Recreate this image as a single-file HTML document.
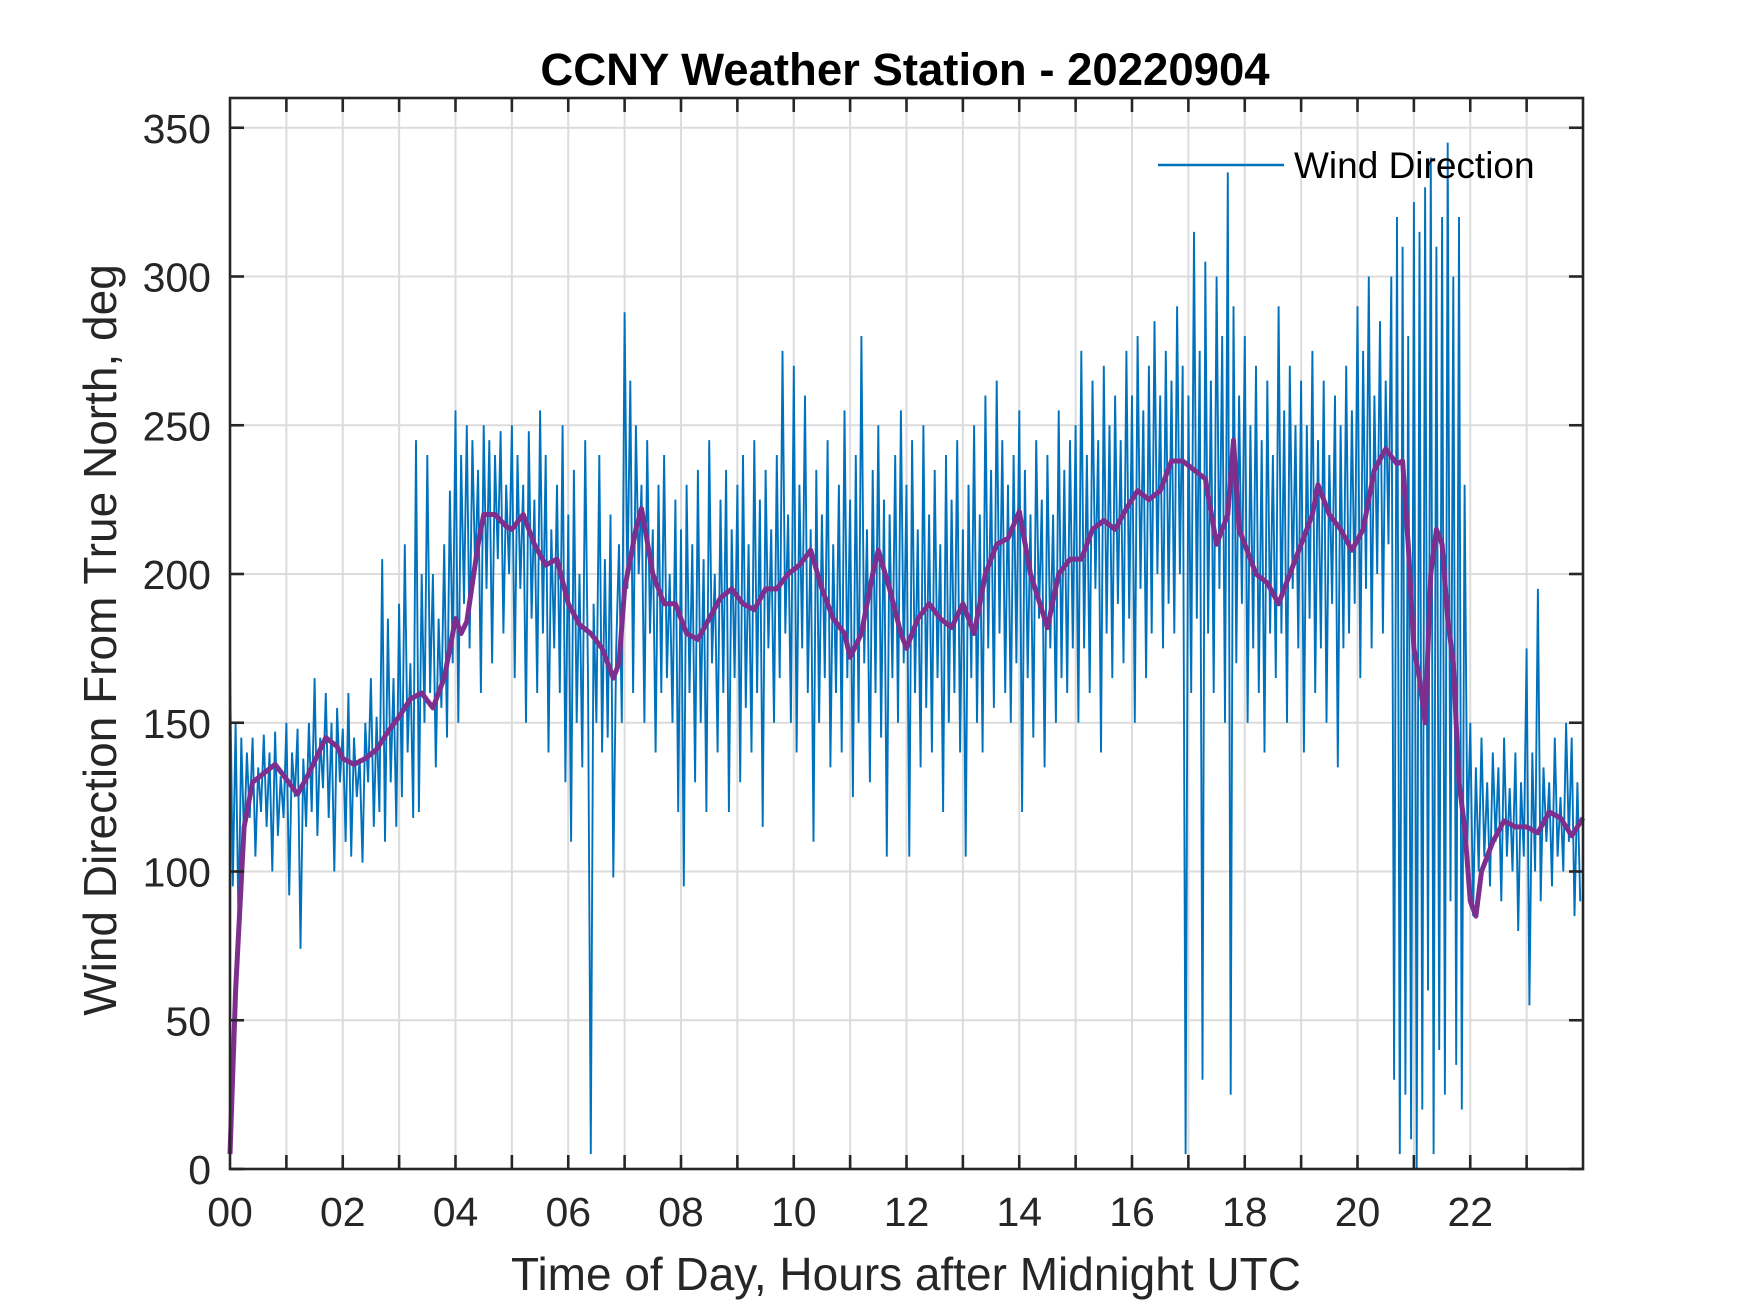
<!DOCTYPE html>
<html><head><meta charset="utf-8"><title>CCNY Weather Station - 20220904</title>
<style>
html,body{margin:0;padding:0;background:#fff;}
svg{display:block;font-family:"Liberation Sans",Arial,sans-serif;}
</style></head>
<body>
<svg id="chart" width="1750" height="1313" viewBox="0 0 1750 1313" xmlns="http://www.w3.org/2000/svg">
<rect x="0" y="0" width="1750" height="1313" fill="#fff"/>
<text x="905" y="85" text-anchor="middle" font-size="45.5" font-weight="bold" fill="#000">CCNY Weather Station - 20220904</text>
<g id="grid"></g>
<g id="plot"></g>
<g id="axes"></g>
<text x="906" y="1290" text-anchor="middle" font-size="46" fill="#262626">Time of Day, Hours after Midnight UTC</text>
<text transform="translate(116,640) rotate(-90)" text-anchor="middle" font-size="46" fill="#262626">Wind Direction From True North, deg</text>
<g>
<line x1="1158" y1="165" x2="1284" y2="165" stroke="#0072bd" stroke-width="2.5"/>
<text x="1294" y="178" font-size="37" fill="#000">Wind Direction</text>
</g>
</svg>
<script>
const xTickHours = [0,2,4,6,8,10,12,14,16,18,20,22];
const xTickLabels = ["00","02","04","06","08","10","12","14","16","18","20","22"];
const yTicks = [0,50,100,150,200,250,300,350];
const windStepMinutes = 3;
const windDir = [
170,95,150,82,145,110,140,118,145,105,135,120,146,115,140,100,147,112,132,118,
150,92,140,125,148,74,138,115,150,120,165,112,145,128,160,118,150,100,155,130,
148,110,160,105,145,125,138,103,150,130,165,115,152,120,205,110,185,130,165,115,
190,125,210,140,170,118,245,120,200,150,240,160,200,135,185,155,210,145,228,170,
255,150,240,190,250,175,245,200,235,160,250,195,245,170,240,205,248,180,230,200,
250,165,240,195,230,150,248,185,225,160,255,180,240,140,215,175,230,160,250,130,
220,110,235,150,200,135,245,165,5,190,150,240,140,205,145,220,98,175,210,150,
288,195,265,160,250,200,230,150,245,180,215,140,230,160,240,165,200,150,225,120,
215,95,230,160,210,130,235,150,205,120,245,170,200,140,225,160,235,120,215,165,
230,130,240,155,210,140,245,160,225,115,235,175,215,150,240,165,275,180,220,150,
270,140,230,175,260,160,215,110,235,150,220,165,245,135,210,160,230,140,255,165,
225,125,240,150,280,170,215,130,235,160,250,145,225,105,220,165,240,150,255,170,
230,105,245,160,215,135,250,155,220,140,235,165,210,120,240,150,225,160,245,140,
215,105,230,165,250,150,220,140,260,175,235,155,265,180,245,160,230,150,240,170,
255,120,235,165,220,145,245,185,225,135,240,175,220,150,255,165,235,160,245,175,
250,150,275,175,240,160,265,195,245,140,270,180,250,165,260,190,245,170,275,185,
260,150,280,195,255,165,270,180,285,200,260,175,275,190,265,180,290,200,270,5,
260,160,315,185,275,30,305,180,265,160,300,195,280,150,335,25,290,170,260,190,
280,150,250,175,270,160,245,140,265,180,240,165,290,180,255,150,270,195,250,175,
265,140,250,185,275,160,245,175,265,150,240,190,260,135,250,175,270,180,255,190,
290,165,275,195,300,175,260,200,285,180,265,210,300,30,320,5,310,25,280,10,
325,0,315,20,330,60,340,5,310,40,320,25,345,90,300,35,320,20,230,110,
150,85,135,100,145,105,130,95,140,110,135,90,145,105,128,100,140,80,130,105,
175,55,140,100,195,90,135,110,130,95,145,105,125,100,150,110,145,85,130,90
];
const avgHours = [0,0.1,0.25,0.4,0.6,0.8,1.0,1.2,1.4,1.6,1.7,1.9,2.0,2.2,2.4,2.6,2.8,3.0,3.2,3.4,3.6,3.8,3.9,4.0,4.1,4.2,4.4,4.5,4.7,4.9,5.0,5.2,5.4,5.6,5.8,6.0,6.2,6.4,6.6,6.8,6.9,7.0,7.2,7.3,7.5,7.7,7.9,8.1,8.3,8.5,8.7,8.9,9.1,9.3,9.5,9.7,9.9,10.1,10.3,10.5,10.7,10.9,11.0,11.2,11.4,11.5,11.7,11.9,12.0,12.2,12.4,12.6,12.8,13.0,13.2,13.4,13.6,13.8,14.0,14.2,14.4,14.5,14.7,14.9,15.1,15.3,15.5,15.7,15.9,16.1,16.3,16.5,16.7,16.9,17.1,17.3,17.5,17.7,17.8,17.9,18.0,18.2,18.4,18.6,18.8,19.0,19.2,19.3,19.5,19.7,19.9,20.1,20.3,20.5,20.7,20.8,20.9,21.0,21.1,21.2,21.3,21.4,21.5,21.6,21.7,21.8,21.9,22.0,22.1,22.2,22.4,22.6,22.8,23.0,23.2,23.4,23.6,23.8,24.0];
const avgDir = [5,60,115,130,133,136,131,126,133,141,145,142,138,136,138,141,147,152,158,160,155,165,175,185,180,184,210,220,220,216,215,220,210,203,205,190,183,180,175,165,170,195,215,222,200,190,190,180,178,185,192,195,190,188,195,195,200,203,208,195,185,180,172,180,200,208,195,180,175,185,190,185,182,190,180,200,210,212,221,200,188,182,200,205,205,215,218,215,222,228,225,228,238,238,235,232,210,220,245,215,210,200,197,190,200,210,220,230,220,215,208,215,235,242,237,238,210,175,165,150,200,215,210,185,170,130,115,90,85,100,110,117,115,115,113,120,118,112,118];

const X0=230, X1=1583, Y0=1169, Y1=98;
function xs(h){return X0+(h/24)*(X1-X0);}
function ys(v){return Y0-(v/360)*(Y0-Y1);}
const NS="http://www.w3.org/2000/svg";
function mk(tag,attrs,parent){const e=document.createElementNS(NS,tag);for(const k in attrs)e.setAttribute(k,attrs[k]);parent.appendChild(e);return e;}
const grid=document.getElementById('grid'), plot=document.getElementById('plot'), axes=document.getElementById('axes');

for(let h=1;h<24;h++){
  const l=mk('line',{x1:xs(h),x2:xs(h),y1:Y1,y2:Y0,stroke:'#dcdcdc','stroke-width':2},grid);
  
  
}
yTicks.forEach(v=>{
  if(v===0)return;
  const l=mk('line',{x1:X0,x2:X1,y1:ys(v),y2:ys(v),stroke:'#dcdcdc','stroke-width':2},grid);
  
  
});

let d='';
windDir.forEach((v,i)=>{const h=i*windStepMinutes/60;d+=(i?'L':'M')+xs(h).toFixed(1)+','+ys(v).toFixed(1);});
const blue=mk('path',{d:d,fill:'none',stroke:'#0072bd','stroke-width':1.9,'stroke-linejoin':'miter'},plot);



let d2='';
avgHours.forEach((h,i)=>{d2+=(i?'L':'M')+xs(h).toFixed(1)+','+ys(avgDir[i]).toFixed(1);});
const purple=mk('path',{d:d2,fill:'none',stroke:'#7e2f8e','stroke-width':5,'stroke-linejoin':'round'},plot);



const box=mk('rect',{x:X0,y:Y1,width:X1-X0,height:Y0-Y1,fill:'none',stroke:'#262626','stroke-width':2.6},axes);



for(let h=1;h<24;h++){
  const t1=mk('line',{x1:xs(h),x2:xs(h),y1:Y0,y2:Y0-14,stroke:'#262626','stroke-width':2.6},axes);
  
  
  const t2=mk('line',{x1:xs(h),x2:xs(h),y1:Y1,y2:Y1+14,stroke:'#262626','stroke-width':2.6},axes);
  
  
}
xTickHours.forEach((h,i)=>{
  const t=mk('text',{x:xs(h),y:1226,'text-anchor':'middle','font-size':41,fill:'#262626'},axes);
  t.textContent=xTickLabels[i];
  
  
});
yTicks.forEach(v=>{
  const a=mk('line',{x1:X0,x2:X0+14,y1:ys(v),y2:ys(v),stroke:'#262626','stroke-width':2.6},axes);
  
  
  const b=mk('line',{x1:X1,x2:X1-14,y1:ys(v),y2:ys(v),stroke:'#262626','stroke-width':2.6},axes);
  
  
  const t=mk('text',{x:211,y:ys(v)+15,'text-anchor':'end','font-size':41,fill:'#262626'},axes);
  t.textContent=String(v);
  
  
});
</script>
</body></html>
